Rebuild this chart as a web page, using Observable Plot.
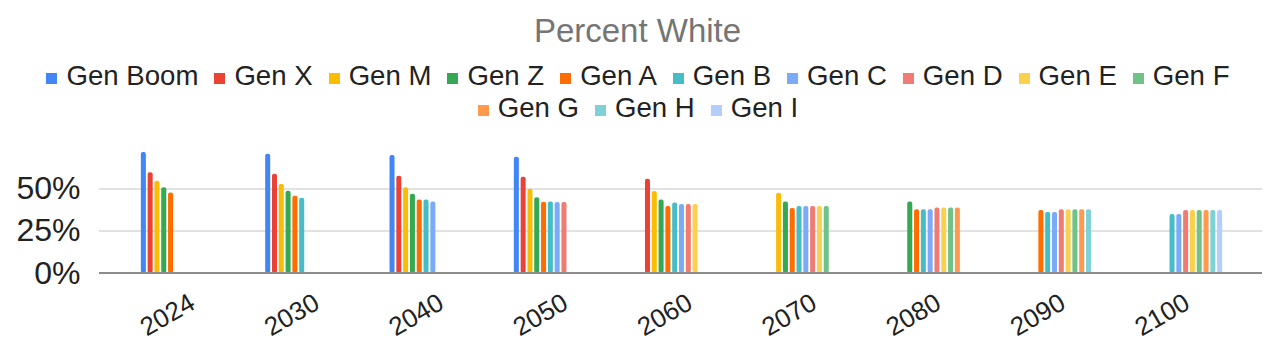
<!DOCTYPE html>
<html>
<head>
<meta charset="utf-8">
<script src="https://cdn.jsdelivr.net/npm/d3@7"></script>
<script src="https://cdn.jsdelivr.net/npm/@observablehq/plot@0.6"></script>
<style>
  body { margin: 0; background: #fff; font-family: Arial, "Liberation Sans", sans-serif; }
  #wrap { position: relative; width: 1271px; height: 343px; overflow: hidden; }
  #title { position: absolute; top: 13px; left: 0; width: 1275px; text-align: center; font-size: 33px; line-height: 36px; color: #757575; }
  #legend { position: absolute; top: 60px; left: 28px; width: 1220px; display: flex; flex-wrap: wrap; justify-content: center; font-size: 27.6px; line-height: 32px; color: #222; }
  .item { display: flex; align-items: center; margin: 0 8px; white-space: nowrap; }
  .sw { width: 11px; height: 11px; margin-right: 9px; position: relative; top: 2px; }
  #chart { position: absolute; top: 125px; left: 0; }
</style>
</head>
<body>
<div id="wrap">
  <div id="title">Percent White</div>
  <div id="legend"></div>
  <div id="chart"></div>
</div>
<script>
const years = ["2024", "2030", "2040", "2050", "2060", "2070", "2080", "2090", "2100"];
const series = ["Gen Boom", "Gen X", "Gen M", "Gen Z", "Gen A", "Gen B", "Gen C", "Gen D", "Gen E", "Gen F", "Gen G", "Gen H", "Gen I"];
const colors = ["#4285F4", "#EA4335", "#FBBC04", "#34A853", "#FF6D01", "#46BDC6", "#7BAAF7", "#F07B72", "#FCD04F", "#71C287", "#FF994D", "#7ED1D7", "#B3CEFB"];
const yTicks = [0, 0.25, 0.5];

// percent values per generation, by year (null = no bar)
const genBoom = [71.2, 70.2, 69.4, 68.4, null, null, null, null, null];
const genX    = [59.2, 58.4, 57.2, 56.6, 55.5, null, null, null, null];
const genM    = [54.3, 52.4, 50.4, 49.6, 48.2, 47.2, null, null, null];
const genZ    = [50.4, 48.4, 46.6, 44.5, 43.3, 42.1, 42.0, null, null];
const genA    = [47.4, 45.5, 43.3, 41.9, 39.4, 38.2, 37.5, 37.1, null];
const genB    = [null, 44.3, 43.3, 42.1, 41.5, 39.4, 37.5, 35.9, 34.7];
const genC    = [null, null, 42.1, 41.7, 40.6, 39.4, 37.5, 35.9, 34.7];
const genD    = [null, null, null, 41.7, 40.6, 39.4, 38.5, 37.5, 37.1];
const genE    = [null, null, null, null, 40.6, 39.4, 38.5, 37.5, 37.1];
const genF    = [null, null, null, null, null, 39.4, 38.5, 37.5, 37.1];
const genG    = [null, null, null, null, null, null, 38.5, 37.5, 37.1];
const genH    = [null, null, null, null, null, null, null, 37.5, 37.1];
const genI    = [null, null, null, null, null, null, null, null, 37.1];

const values = [genBoom, genX, genM, genZ, genA, genB, genC, genD, genE, genF, genG, genH, genI];
const data = [];
series.forEach((s, i) => values[i].forEach((v, j) => {
  if (v != null) data.push({year: years[j], series: s, value: v / 100});
}));

// legend
const legend = document.getElementById("legend");
series.forEach((s, i) => {
  const it = document.createElement("div");
  it.className = "item";
  const sw = document.createElement("span");
  sw.className = "sw";
  sw.style.background = colors[i];
  it.appendChild(sw);
  it.appendChild(document.createTextNode(s));
  legend.appendChild(it);
});

const chart = Plot.plot({
  width: 1271,
  height: 218,
  marginLeft: 99,
  marginRight: 9,
  marginTop: 20.5,
  marginBottom: 70,
  style: {fontFamily: "Arial, 'Liberation Sans', sans-serif", background: "transparent", color: "#222", overflow: "visible"},
  fx: {domain: years, range: [122, 1241], padding: 0, round: false, label: null},
  x: {domain: series, paddingInner: 0.26, paddingOuter: 2.77, round: false, axis: null},
  y: {domain: [0, 0.75], axis: null},
  color: {domain: series, range: colors},
  marks: [
    Plot.ruleY([0.25, 0.5], {stroke: "#e2e2e2", strokeWidth: 2, insetLeft: -23, insetRight: -21, shapeRendering: "crispEdges"}),
    Plot.barY(data, {fx: "year", x: "series", y: "value", fill: "series", rx: 2}),
    Plot.ruleY([0], {stroke: "#8c8c8c", strokeWidth: 2, dy: -0.5, insetLeft: -23, insetRight: -21, shapeRendering: "crispEdges"}),
    Plot.axisY({ticks: yTicks, tickFormat: d3.format(".0%"), tickSize: 0, tickPadding: 19, dx: -23, fontSize: 32, fill: "#222", label: null}),
    Plot.axisFx({anchor: "bottom", tickRotate: -30, tickSize: 0, tickPadding: 27, dx: 8, fontSize: 26, label: null, fill: "#222"})
  ]
});
document.getElementById("chart").appendChild(chart);
</script>
</body>
</html>
